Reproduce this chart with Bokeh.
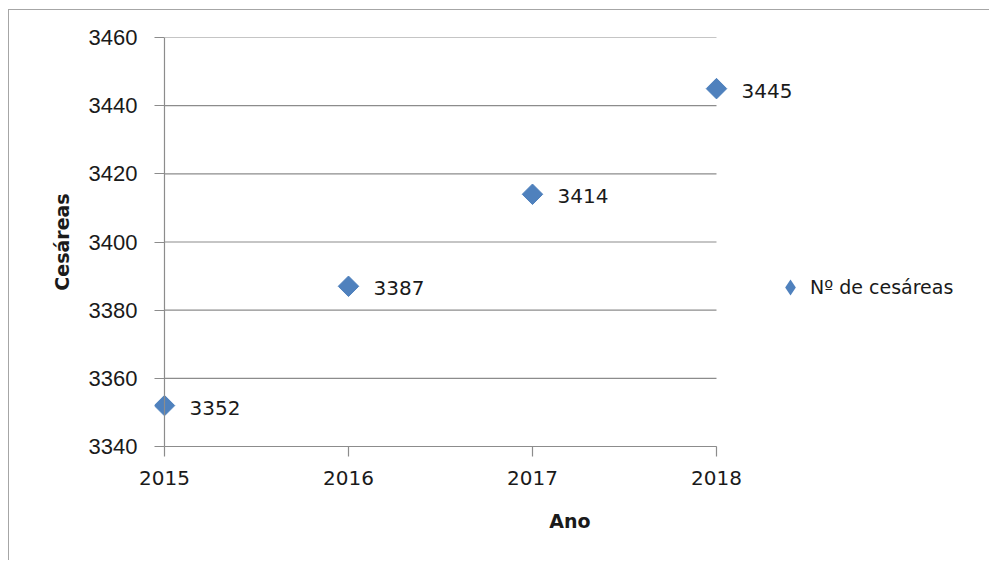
import numpy as np
from bokeh.plotting import figure
from bokeh.models import Range1d, FixedTicker, Legend, LegendItem, Span
from bokeh.embed import file_html
from bokeh.resources import INLINE
from bokeh.core.properties import value

# ---- data ----
anos = [2015, 2016, 2017, 2018]
cesareas = [3352, 3387, 3414, 3445]
rotulos = [str(v) for v in cesareas]
y_ticks = [3340, 3360, 3380, 3400, 3420, 3440, 3460]
x_ticks = [2015, 2016, 2017, 2018]
serie = "Nº de cesáreas"
titulo_x = "Ano"
titulo_y = "Cesáreas"

AZUL = "#4F81BD"
CINZA = "#8c8c8c"
TEXTO = "#1a1a1a"

p = figure(width=981, height=551, output_backend="svg", toolbar_location=None,
           x_range=Range1d(2014.9457, 2019.462), y_range=Range1d(3340, 3460),
           min_border_left=145, min_border_right=5, min_border_top=27,
           min_border_bottom=115,
           styles={"margin-left": "8px", "margin-top": "9px",
                   "border-left": "1px solid #a6a6a6", "border-top": "1px solid #a6a6a6"})
p.outline_line_color = None
p.background_fill_color = "white"
p.border_fill_color = "white"
p.xgrid.visible = False
p.ygrid.visible = False

# horizontal gridlines
p.segment(x0=[x_ticks[0]] * len(y_ticks), x1=[x_ticks[-1]] * len(y_ticks),
          y0=y_ticks, y1=y_ticks, line_color=CINZA, line_width=1.2)

# vertical axis line at the first year
p.add_layout(Span(location=x_ticks[0], dimension="height",
                  line_color=CINZA, line_width=1.2))

# axes
xa = p.xaxis[0]
xa.ticker = FixedTicker(ticks=x_ticks)
xa.bounds = (x_ticks[0], x_ticks[-1])
xa.axis_line_color = CINZA
xa.axis_line_width = 1.2
xa.major_tick_line_color = CINZA
xa.major_tick_line_width = 1.2
xa.major_tick_out = 10
xa.major_tick_in = 0
xa.minor_tick_line_color = None
xa.major_label_standoff = 14
xa.major_label_text_font = "DejaVu Sans"
xa.major_label_text_font_size = "20px"
xa.major_label_text_color = TEXTO
xa.axis_label = titulo_x
xa.axis_label_text_font = "DejaVu Sans"
xa.axis_label_text_font_style = "bold"
xa.axis_label_text_font_size = "19px"
xa.axis_label_text_color = TEXTO
xa.axis_label_standoff = 22

ya = p.yaxis[0]
ya.ticker = FixedTicker(ticks=y_ticks)
ya.axis_line_color = None
ya.major_tick_line_color = CINZA
ya.major_tick_line_width = 1.2
ya.major_tick_out = 0
ya.major_tick_in = 10
ya.minor_tick_line_color = None
ya.major_label_standoff = 17
ya.major_label_text_font = "Liberation Sans"
ya.major_label_text_font_size = "22px"
ya.major_label_text_color = TEXTO
ya.axis_label = titulo_y
ya.axis_label_text_font = "DejaVu Sans"
ya.axis_label_text_font_style = "bold"
ya.axis_label_text_font_size = "19px"
ya.axis_label_text_color = TEXTO
ya.axis_label_standoff = 13

# markers
r = p.scatter(anos, cesareas, marker="square", angle=np.pi / 4, size=14.5,
              fill_color=AZUL, line_color=AZUL)

# data labels
p.text(anos, cesareas, text=rotulos, x_offset=25, y_offset=2,
       text_baseline="middle", text_align="left",
       text_font=value("DejaVu Sans"), text_font_size="20px", text_color=TEXTO)

# legend key: diamond-shaped renderer of the same series (zero size on the plot)
r_leg = p.scatter(anos, cesareas, marker="diamond", size=0,
                  fill_color=AZUL, line_color=None)

legend = Legend(items=[LegendItem(label=serie, renderers=[r_leg])],
                location=(616, 139), padding=0, margin=0, spacing=0,
                glyph_width=40, glyph_height=40, label_standoff=0,
                label_text_font="DejaVu Sans", label_text_font_size="19px",
                label_text_color=TEXTO, border_line_color=None,
                background_fill_alpha=0)
p.add_layout(legend)

open("out.html", "w").write(file_html(p, INLINE))
